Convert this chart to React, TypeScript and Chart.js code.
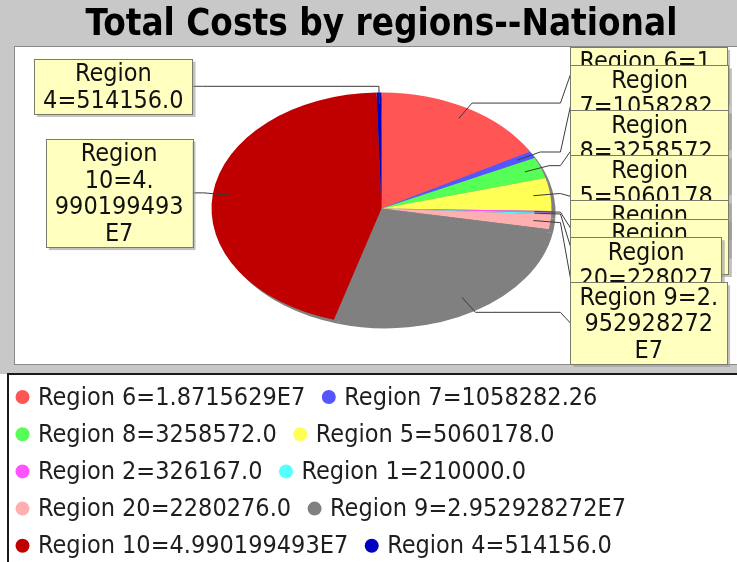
import { useEffect, useRef } from 'react';
import { Chart, PieController, ArcElement, Title } from 'chart.js';

Chart.register(PieController, ArcElement, Title);

// ---- data -------------------------------------------------------------
const TITLE = 'Total Costs by regions--National';
const REGIONS = [
  'Region 6', 'Region 7', 'Region 8', 'Region 5', 'Region 2',
  'Region 1', 'Region 20', 'Region 9', 'Region 10', 'Region 4',
];
const COSTS = [
  18715629, 1058282.26, 3258572, 5060178, 326167,
  210000, 2280276, 29529282.72, 49901994.93, 514156,
];
const COLORS = [
  '#ff5555', '#5555ff', '#55ff55', '#ffff55', '#ff55ff',
  '#55ffff', '#ffafaf', '#808080', '#c00000', '#0000c0',
];

// ---- look -------------------------------------------------------------
const FONT = '"DejaVu Sans Condensed", "DejaVu Sans", sans-serif';
const TITLE_SIZE = 36.5;
const LABEL_SIZE = 25;
const LABEL_LINE = 26.6;
const LABEL_PADH = 9;
const LABEL_PADV = 1;
const LABEL_WRAP = 142;
const LEGEND_SIZE = 25;

const CHART_BG = '#c8c8c8';
const PLOT = { left: 15, top: 47, bottom: 364 };
const LEGEND_BOX = { left: 8, top: 374 };
const LEGEND_ROW0 = 397;
const LEGEND_ROW_H = 37.2;

const PIE_RY = 116;
const PIE_STRETCH = 170 / 116; // pie is drawn as an ellipse
const SHADOW = '#808080';
const SHADOW_OFFSET = 4;
const LINK_DEPTH = 0.9;
const LINK_MARGIN = 0.025;
const LABEL_GAP = 10;

// Double.toString style formatting: 1058282.26, 3258572.0, 1.8715629E7
function javaDouble(v: number): string {
  if (Math.abs(v) >= 1e7) return v.toExponential().replace('e+', 'E');
  const s = String(v);
  return s.includes('.') ? s : s + '.0';
}
const itemText = (i: number) => `${REGIONS[i]}=${javaDouble(COSTS[i])}`;

function squash(ctx: CanvasRenderingContext2D, cx: number, cy: number) {
  ctx.translate(cx, cy);
  ctx.scale(PIE_STRETCH, 1);
  ctx.translate(-cx, -cy);
}

// greedy wrap: break at spaces and after '.', split characters when a piece is too wide
function wrap(ctx: CanvasRenderingContext2D, text: string, maxW: number): string[] {
  const tokens: { t: string; sp: boolean }[] = [];
  text.split(' ').forEach((word, wi) => {
    word.split(/(?<=\.)/).forEach((p, pi) => tokens.push({ t: p, sp: wi > 0 && pi === 0 }));
  });
  const fits = (s: string) => ctx.measureText(s).width <= maxW;
  const lines: string[] = [];
  let line = '';
  for (const tk of tokens) {
    const cand = line ? line + (tk.sp ? ' ' : '') + tk.t : tk.t;
    if (fits(cand)) { line = cand; continue; }
    if (line) lines.push(line);
    line = tk.t;
    while (!fits(line)) {
      let k = line.length - 1;
      while (k > 1 && !fits(line.slice(0, k))) k--;
      lines.push(line.slice(0, k));
      line = line.slice(k);
    }
  }
  if (line) lines.push(line);
  return lines;
}

type Rec = {
  i: number; lines: string[]; w: number; h: number; y: number; base: number;
  right: boolean; linkX: number; linkY: number; elbowX: number; elbowY: number;
};

// label distributor: push down, push up, then spread evenly if still overlapping
function distribute(recs: Rec[], minY: number, height: number) {
  recs.sort((a, b) => a.base - b.base);
  const overlap = () => {
    let y = -Infinity;
    for (const r of recs) {
      if (y > r.y - r.h / 2) return true;
      y = r.y + r.h / 2;
    }
    return false;
  };
  if (overlap()) {
    for (let k = 0; k < recs.length - 1; k++) {
      const r0 = recs[k], r1 = recs[k + 1];
      if (r1.y - r1.h / 2 < r0.y + r0.h / 2) {
        r1.y = Math.min(minY + height - r1.h / 2, r0.y + r0.h / 2 + r1.h / 2);
      }
    }
  }
  if (overlap()) {
    for (let k = recs.length - 1; k > 0; k--) {
      const r0 = recs[k], r1 = recs[k - 1];
      if (r1.y + r1.h / 2 > r0.y - r0.h / 2) {
        r1.y = Math.max(minY + r1.h / 2, r0.y - r0.h / 2 - r1.h / 2);
      }
    }
  }
  if (overlap()) {
    const sum = recs.reduce((s, r) => s + r.h, 0);
    const gap = recs.length > 1 ? (height - sum) / (recs.length - 1) : height - sum;
    let y = minY;
    for (const r of recs) {
      y += r.h / 2;
      r.y = y;
      y += r.h / 2 + gap;
    }
  }
}

const backdrop = {
  id: 'backdrop',
  beforeDraw(chart: any) {
    const { ctx, width, height } = chart;
    ctx.save();
    ctx.fillStyle = '#ffffff';
    ctx.fillRect(0, 0, width, height);
    ctx.fillStyle = CHART_BG;
    ctx.fillRect(0, 0, width, LEGEND_BOX.top);
    ctx.fillStyle = '#ffffff';
    ctx.fillRect(PLOT.left, PLOT.top, width, PLOT.bottom - PLOT.top);
    ctx.strokeStyle = '#8a8a8a';
    ctx.lineWidth = 1;
    ctx.strokeRect(PLOT.left - 0.5, PLOT.top - 0.5, width + 10, PLOT.bottom - PLOT.top + 1);
    ctx.strokeStyle = '#1a1a1a';
    ctx.lineWidth = 2;
    ctx.beginPath();
    ctx.moveTo(LEGEND_BOX.left, height);
    ctx.lineTo(LEGEND_BOX.left, LEGEND_BOX.top);
    ctx.lineTo(width + 5, LEGEND_BOX.top);
    ctx.stroke();
    ctx.restore();
  },
};

const piePainter = {
  id: 'piePainter',
  beforeDatasetsDraw(chart: any) {
    const ctx: CanvasRenderingContext2D = chart.ctx;
    const arcs = chart.getDatasetMeta(0).data;
    const { x: cx, y: cy } = arcs[0];
    // drop shadow behind the whole pie
    ctx.save();
    ctx.translate(SHADOW_OFFSET, SHADOW_OFFSET);
    squash(ctx, cx, cy);
    for (const arc of arcs) {
      const opts = arc.options;
      arc.options = { ...opts, backgroundColor: SHADOW, borderColor: SHADOW, borderWidth: 0 };
      arc.draw(ctx);
      arc.options = opts;
    }
    ctx.restore();
    ctx.save();
    squash(ctx, cx, cy);
  },
  afterDatasetsDraw(chart: any) {
    const ctx: CanvasRenderingContext2D = chart.ctx;
    ctx.restore();
    const arcs = chart.getDatasetMeta(0).data;
    const { x: cx, y: cy, outerRadius: r } = arcs[0];
    const rx = r * PIE_STRETCH, ry = r;
    const linkHW = rx / (1 - 2 * LINK_MARGIN);
    const linkHH = ry / (1 - 2 * LINK_MARGIN);

    ctx.save();
    ctx.font = `${LABEL_SIZE}px ${FONT}`;
    const left: Rec[] = [], right: Rec[] = [];
    arcs.forEach((arc: any, i: number) => {
      const mid = (arc.startAngle + arc.endAngle) / 2;
      const c = Math.cos(mid), s = Math.sin(mid);
      const lines = wrap(ctx, itemText(i), LABEL_WRAP);
      const w = Math.max(...lines.map((l) => ctx.measureText(l).width)) + 2 * LABEL_PADH;
      const h = lines.length * LABEL_LINE + 2 * LABEL_PADV;
      const elbowY = cy + s * linkHH;
      const rec: Rec = {
        i, lines, w, h, y: elbowY, base: elbowY, right: c >= 0,
        linkX: cx + c * rx * LINK_DEPTH, linkY: cy + s * ry * LINK_DEPTH,
        elbowX: cx + c * linkHW, elbowY,
      };
      (rec.right ? right : left).push(rec);
    });
    distribute(left, PLOT.top, PLOT.bottom - PLOT.top);
    distribute(right, PLOT.top, PLOT.bottom - PLOT.top);

    const drawRec = (rec: Rec) => {
      const anchorX = rec.right ? cx + linkHW : cx - linkHW;
      const targetX = rec.right ? anchorX + LABEL_GAP : anchorX - LABEL_GAP;
      ctx.strokeStyle = '#3c3c3c';
      ctx.lineWidth = 1;
      ctx.beginPath();
      ctx.moveTo(rec.linkX, rec.linkY);
      ctx.lineTo(rec.elbowX, rec.elbowY);
      ctx.lineTo(anchorX, rec.elbowY);
      ctx.lineTo(targetX, rec.y);
      ctx.stroke();
      const bx = rec.right ? targetX : targetX - rec.w;
      const by = rec.y - rec.h / 2;
      ctx.fillStyle = 'rgba(151,151,151,0.6)';
      ctx.fillRect(bx + 3, by + 3, rec.w, rec.h);
      ctx.fillStyle = '#ffffc0';
      ctx.fillRect(bx, by, rec.w, rec.h);
      ctx.strokeStyle = '#7c7c6c';
      ctx.strokeRect(Math.round(bx) + 0.5, Math.round(by) + 0.5, Math.round(rec.w), Math.round(rec.h));
      ctx.fillStyle = '#111';
      ctx.textAlign = 'center';
      ctx.textBaseline = 'middle';
      rec.lines.forEach((l, k) => {
        ctx.fillText(l, bx + rec.w / 2, by + LABEL_PADV + LABEL_LINE * (k + 0.5) + 1.5);
      });
    };
    left.forEach(drawRec);
    right.forEach(drawRec);
    ctx.restore();
  },
  afterDraw(chart: any) {
    // legend: coloured dots with "name=value", flowing left to right
    const ctx: CanvasRenderingContext2D = chart.ctx;
    const colors = chart.data.datasets[0].backgroundColor as string[];
    ctx.save();
    ctx.font = `${LEGEND_SIZE}px ${FONT}`;
    ctx.textAlign = 'left';
    ctx.textBaseline = 'middle';
    const x0 = LEGEND_BOX.left + 7;
    let x = x0, row = 0;
    REGIONS.forEach((_, i) => {
      const text = itemText(i);
      const w = 23 + ctx.measureText(text).width;
      if (x > x0 && x + w > chart.width) { row++; x = x0; }
      const y = LEGEND_ROW0 + row * LEGEND_ROW_H;
      ctx.fillStyle = colors[i];
      ctx.beginPath();
      ctx.arc(x + 7.5, y, 7, 0, Math.PI * 2);
      ctx.fill();
      ctx.fillStyle = '#1e1e1e';
      ctx.fillText(text, x + 23, y + 1);
      x += w + 16;
    });
    ctx.restore();
  },
};

export default function App() {
  const ref = useRef<HTMLCanvasElement>(null);
  useEffect(() => {
    const chart = new Chart(ref.current!, {
      type: 'pie',
      data: {
        labels: REGIONS,
        datasets: [{
          data: COSTS,
          backgroundColor: COLORS,
          borderWidth: 0,
          hoverOffset: 0,
          radius: PIE_RY,
        } as any],
      },
      options: {
        animation: false,
        responsive: false,
        events: [],
        layout: { padding: { left: 26, right: 0, top: 0, bottom: 193 } },
        plugins: {
          title: {
            display: true,
            text: TITLE,
            color: '#000',
            font: { family: FONT, size: TITLE_SIZE, weight: 'bold', lineHeight: 1.2 },
            padding: { top: 4, bottom: 0 },
          },
        } as any,
      },
      plugins: [backdrop, piePainter],
    });
    return () => chart.destroy();
  }, []);
  return (
    <div style={{ position: 'absolute', left: 0, top: 0, width: 737, height: 562 }}>
      <canvas ref={ref} width={737} height={562} style={{ width: '737px', height: '562px', display: 'block' }} />
    </div>
  );
}
